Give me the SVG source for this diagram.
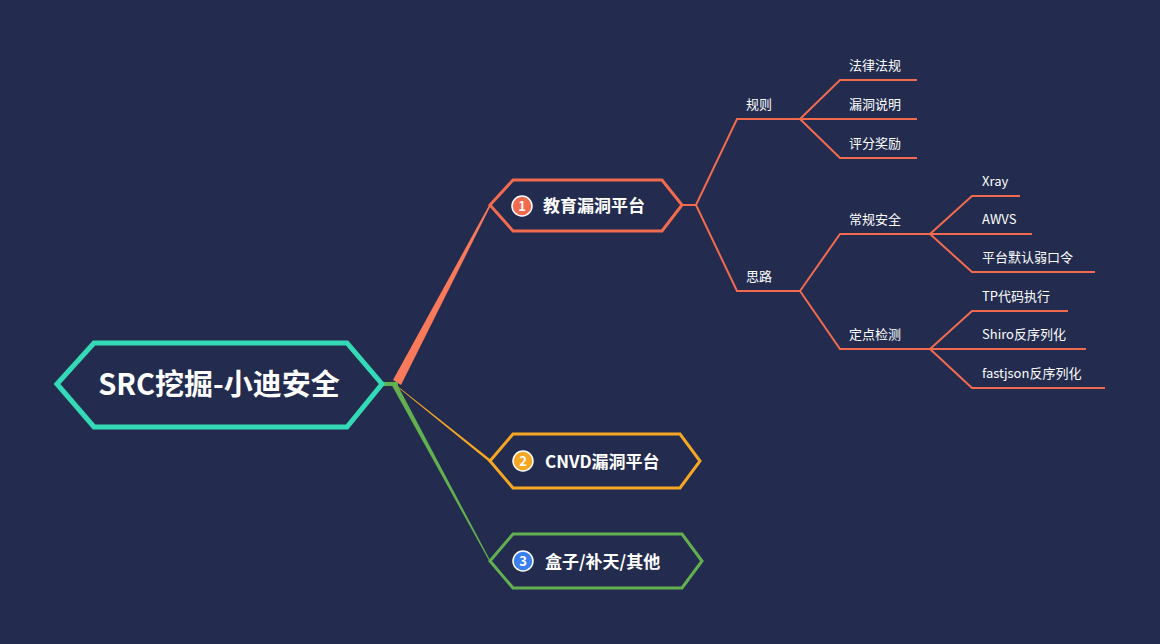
<svg xmlns="http://www.w3.org/2000/svg" width="1160" height="644" viewBox="0 0 1160 644">
<style>
.t{font-family:"Noto Sans CJK SC","Noto Sans",sans-serif;fill:#fff}
.b{font-weight:bold}
.l{fill:none;stroke:#f26b4f;stroke-width:2}
</style>
<rect width="1160" height="644" fill="#232c4e"/>
<g id="connectors">
<polygon points="393,380 401,385 490.5,206 489.5,204.5" fill="#f87a5a"/>
<polygon points="391,381 400,389 490,462.5 490.5,459.5" fill="#f5a623"/>
<polygon points="390,382 398,386 490.5,561 489.5,561.5" fill="#62b04f"/>
<line x1="383" y1="384" x2="398" y2="384" stroke="#62b04f" stroke-width="4"/>
<path class="l" d="M682 205H696L737 119H800M696 205L737 291H800"/>
<path class="l" d="M800 119L840 80H917M800 119H917M800 119L840 158H917"/>
<path class="l" d="M800 291L840 234H930M800 291L840 349H930"/>
<path class="l" d="M930 234L972 196H1020M930 234H1032M930 234L972 272H1095"/>
<path class="l" d="M930 349L972 311H1068M930 349H1086M930 349L972 388H1105"/>
</g>
<g id="root">
<polygon points="57,384 94,343 347,343 382,384 347,427 94,427" fill="#232c4e" stroke="#34d9b6" stroke-width="5"/>
<text class="t b" x="219" y="395" font-size="29" text-anchor="middle">SRC挖掘-小迪安全</text>
</g>
<g id="n1">
<polygon points="490,205 513,180 662,180 682,205 662,231 513,231" fill="#232c4e" stroke="#f26b4f" stroke-width="3"/>
<circle cx="522" cy="206" r="10" fill="#f26b4f" stroke="#fff" stroke-width="1.5"/>
<text class="t b" x="522" y="211" font-size="13" text-anchor="middle">1</text>
<text class="t b" x="543" y="212" font-size="17">教育漏洞平台</text>
</g>
<g id="n2">
<polygon points="490,461 513,434 680,434 700,461 680,488 513,488" fill="#232c4e" stroke="#f5a623" stroke-width="3"/>
<circle cx="523" cy="461" r="10" fill="#f5a623" stroke="#fff" stroke-width="1.5"/>
<text class="t b" x="523" y="466" font-size="13" text-anchor="middle">2</text>
<text class="t b" x="545" y="468" font-size="17">CNVD漏洞平台</text>
</g>
<g id="n3">
<polygon points="490,561 513,534 682,534 702,561 682,588 513,588" fill="#232c4e" stroke="#62b04f" stroke-width="3"/>
<circle cx="523" cy="561" r="10" fill="#3a7ff0" stroke="#fff" stroke-width="1.5"/>
<text class="t b" x="523" y="566" font-size="13" text-anchor="middle">3</text>
<text class="t b" x="545" y="568" font-size="17">盒子/补天/其他</text>
</g>
<g id="leaves" class="t" font-size="13">
<text x="746" y="109">规则</text>
<text x="746" y="281">思路</text>
<text x="849" y="70">法律法规</text>
<text x="849" y="109">漏洞说明</text>
<text x="849" y="148">评分奖励</text>
<text x="849" y="224">常规安全</text>
<text x="849" y="339">定点检测</text>
<text x="982" y="186">Xray</text>
<text x="982" y="224">AWVS</text>
<text x="982" y="262">平台默认弱口令</text>
<text x="982" y="301">TP代码执行</text>
<text x="982" y="339">Shiro反序列化</text>
<text x="982" y="378">fastjson反序列化</text>
</g>
</svg>
